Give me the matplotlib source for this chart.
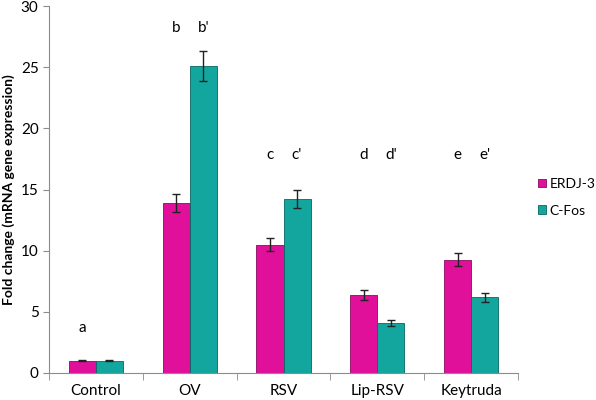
import matplotlib
matplotlib.use("Agg")
import matplotlib.pyplot as plt
import numpy as np

plt.rcParams['font.family'] = ['Lato', 'DejaVu Sans']

groups = ["Control", "OV", "RSV", "Lip-RSV", "Keytruda"]
erdj3 = [1.0, 13.9, 10.5, 6.35, 9.27]
erdj3_err = [0.05, 0.7, 0.55, 0.4, 0.52]
cfos = [1.0, 25.1, 14.2, 4.06, 6.19]
cfos_err = [0.05, 1.2, 0.75, 0.25, 0.35]
letters_erdj3 = ["a", "b", "c", "d", "e"]
letters_cfos = ["", "b'", "c'", "d'", "e'"]
letter_y = [3.7, 28.2, 17.8, 17.8, 17.8]

magenta = "#E0109A"
teal = "#12A69E"

fig = plt.figure(figsize=(5.96, 4.0), dpi=100)
ax = fig.add_axes([0.0822, 0.0675, 0.787, 0.9175])

x = np.arange(len(groups))
w = 0.288
ax.bar(x - w / 2, erdj3, w, color=magenta, edgecolor="#8a0a60", linewidth=0.6,
       yerr=erdj3_err, capsize=3, error_kw=dict(ecolor="#222222", elinewidth=1, capthick=1),
       label="ERDJ-3")
ax.bar(x + w / 2, cfos, w, color=teal, edgecolor="#0a6660", linewidth=0.6,
       yerr=cfos_err, capsize=3, error_kw=dict(ecolor="#222222", elinewidth=1, capthick=1),
       label="C-Fos")

for i in range(len(groups)):
    ax.text(x[i] - w / 2, letter_y[i], letters_erdj3[i], ha="center", va="center", fontsize=11)
    if letters_cfos[i]:
        ax.text(x[i] + w / 2, letter_y[i], letters_cfos[i], ha="center", va="center", fontsize=11)

ax.set_xlim(-0.5, len(groups) - 0.5)
ax.set_ylim(0, 30)
ax.set_yticks(range(0, 31, 5))
ax.set_xticks(x)
ax.set_xticklabels(groups, fontsize=11)
ax.set_xticks(np.arange(-0.5, len(groups)), minor=True)
ax.tick_params(axis="x", which="major", length=0, pad=8)
ax.tick_params(axis="x", which="minor", length=5, color="#8c8c8c")
ax.tick_params(axis="y", length=4, color="#8c8c8c", labelsize=11)
for s in ["top", "right"]:
    ax.spines[s].set_visible(False)
for s in ["left", "bottom"]:
    ax.spines[s].set_color("#8c8c8c")
ax.set_ylabel("Fold change (mRNA gene expression)", fontsize=10, fontweight="bold")

fig.legend(loc="upper left", bbox_to_anchor=(0.903, 0.555), frameon=False, fontsize=10,
           borderpad=0, borderaxespad=0, handlelength=0.55, handleheight=0.55,
           handletextpad=0.25, labelspacing=1.05)

fig.savefig("out.png", dpi=100)
